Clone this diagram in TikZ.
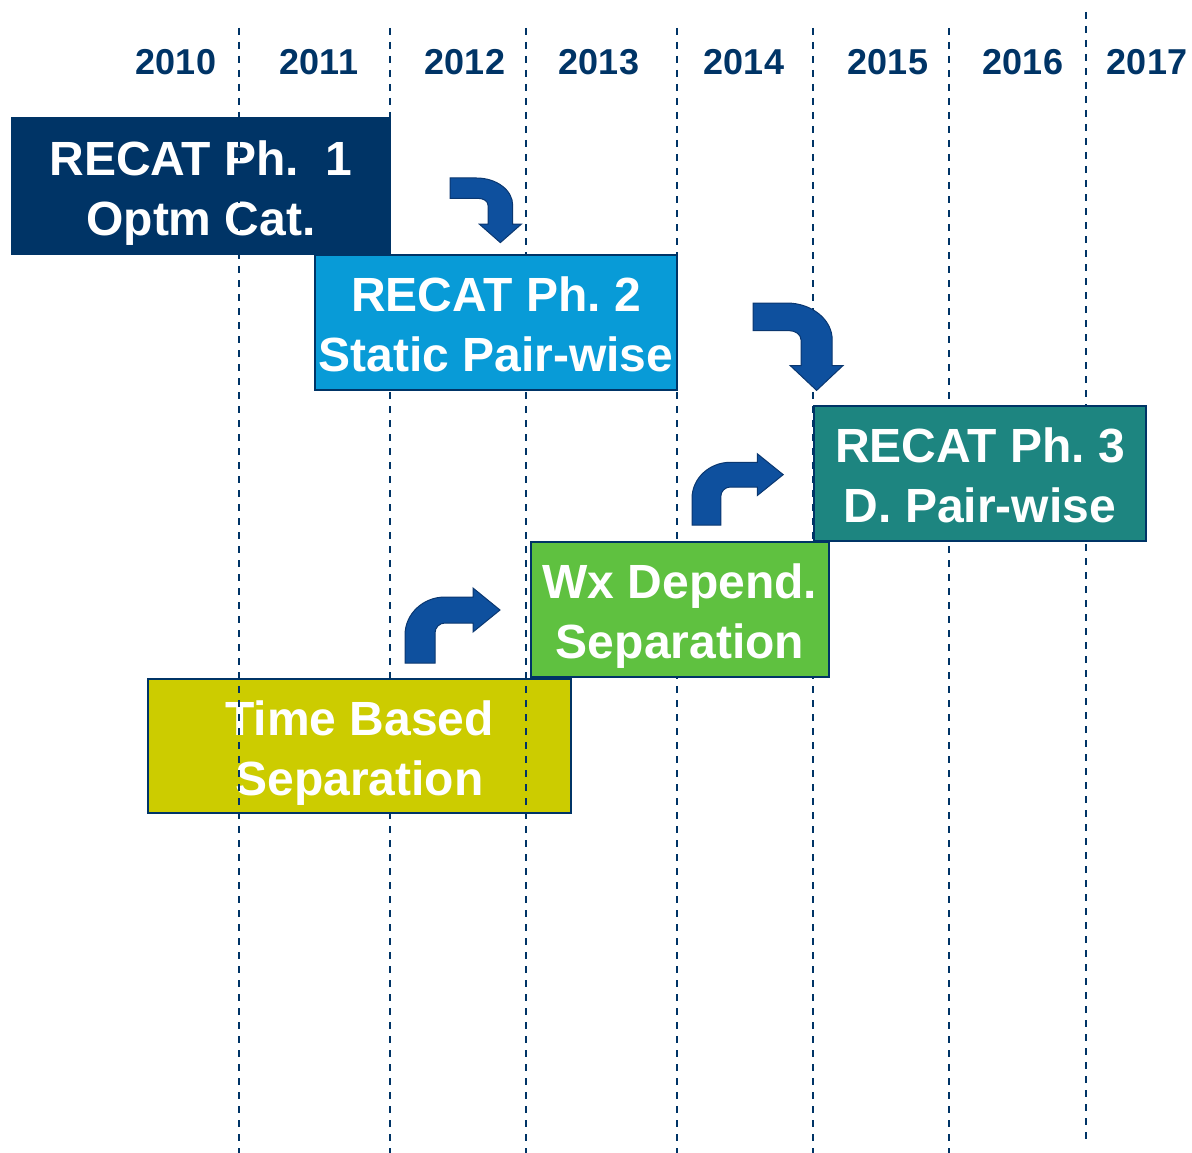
\documentclass[tikz,border=0pt]{standalone}
\usepackage{fontspec}
\setmainfont{Liberation Sans}
\frenchspacing
\definecolor{recatnavy}{RGB}{0,52,102}
\definecolor{recatblue}{RGB}{8,155,215}
\definecolor{recatteal}{RGB}{29,133,128}
\definecolor{recatgreen}{RGB}{95,193,64}
\definecolor{recatolive}{RGB}{204,204,0}
\definecolor{arrowblue}{RGB}{14,80,158}
\definecolor{arrowedge}{RGB}{10,55,112}
\newcommand\phstrut{\rule[-11pt]{0pt}{60pt}}
% bent block arrow: (origin)(rotation:xscale:yscale), drawn tail up, head right
\def\bentarrow(#1)(#2:#3:#4){\begin{scope}[shift={(#1)},rotate=#2,xscale=#3,yscale=#4]
	\draw[blockarrow] (0,0) -- (0,-28) arc[start angle=180,end angle=270,x radius=40,y radius=38]
		-- (68,-66) -- (68,-75) -- (95,-53) -- (68,-31) -- (68,-40) -- (40,-40)
		arc[start angle=270,end angle=180,radius=10] -- (30,0) -- cycle;
	\end{scope}}

\begin{document}
\begin{tikzpicture}[x=1pt,y=-1pt,
	yearline/.style={draw=recatnavy,line width=2pt,dash pattern=on 7pt off 7pt},
	yearlabel/.style={text=recatnavy,font=\fontsize{36}{42}\selectfont\bfseries},
	phase/.style={draw=recatnavy,line width=1.5pt,text=white,align=center,inner sep=0pt,
		font=\fontsize{48}{60}\selectfont\bfseries\frenchspacing},
	blockarrow/.style={fill=arrowblue,draw=arrowedge,line width=1pt}]
				\useasboundingbox (0,0) rectangle (1192,1153);
				
				\draw[yearline] (239,28) -- (239,1153);
				\draw[yearline] (390,28) -- (390,1153);
				\draw[yearline] (526,28) -- (526,1153);
				\draw[yearline] (677,28) -- (677,1153);
				\draw[yearline] (813,28) -- (813,1153);
				\draw[yearline] (949,28) -- (949,1153);
				\draw[yearline] (1086,12) -- (1086,1140);
				
				\node[yearlabel] (y2010) at (176,62) {2010};
				\node[yearlabel] (y2011) at (319,62) {2011};
				\node[yearlabel] (y2012) at (465,62) {2012};
				\node[yearlabel] (y2013) at (599,62) {2013};
				\node[yearlabel] (y2014) at (744,62) {2014};
				\node[yearlabel] (y2015) at (888,62) {2015};
				\node[yearlabel] (y2016) at (1023,62) {2016};
				\node[yearlabel] (y2017) at (1147,62) {2017};
				
				\bentarrow(450,178)(-90:0.68:0.95)
				\bentarrow(753,303)(-90:0.92:1.2)
				\bentarrow(692,525)(0:0.96:0.95)
				\bentarrow(405,663)(0:1:1)
				
				\node[phase,fill=recatnavy,minimum width=378pt,minimum height=136pt] (ph1) at (201,186) {\phstrut RECAT Ph.\ \ 1\\\phstrut Optm Cat.};
				\node[phase,fill=recatblue,minimum width=362pt,minimum height=135pt] (ph2) at (496,322.5) {\phstrut RECAT Ph. 2\\\phstrut Static Pair-wise};
				\node[phase,fill=recatteal,minimum width=332pt,minimum height=135pt] (ph3) at (980,473.5) {\phstrut RECAT Ph. 3\\\phstrut D. Pair-wise};
				\node[phase,fill=recatgreen,minimum width=298pt,minimum height=135pt] (wx) at (680,609.5) {\phstrut Wx Depend.\\\phstrut Separation};
				\node[phase,fill=recatolive,minimum width=423pt,minimum height=134pt] (tbs) at (359.5,746) {\phstrut Time Based\\\phstrut Separation};
				
				% these two lines show through the boxes
				\draw[yearline] (239,28) -- (239,1153);
				\begin{scope}
					\clip (tbs.north west) rectangle (tbs.south east);
					\draw[yearline] (526,28) -- (526,1153);
				\end{scope}
\end{tikzpicture}
\end{document}
